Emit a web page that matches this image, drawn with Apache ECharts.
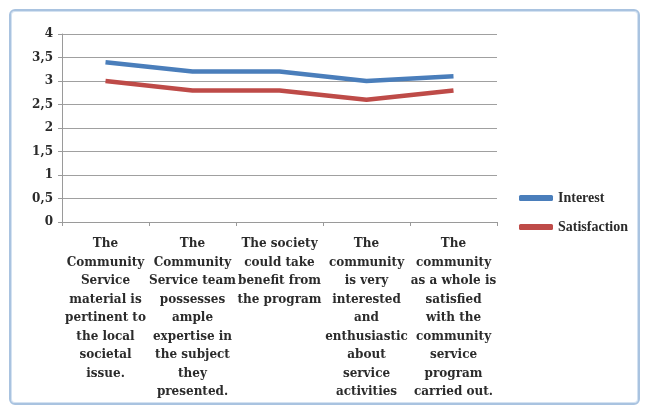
<!DOCTYPE html>
<html>
<head>
<meta charset="utf-8">
<script src="https://cdn.jsdelivr.net/npm/echarts@6/dist/echarts.min.js"></script>
<style>
  html, body { margin: 0; padding: 0; background: #ffffff; }
  #frame {
    position: absolute; left: 9px; top: 9px; width: 627px; height: 392px;
    border: 2px solid #a9c3e0; border-radius: 6px; box-shadow: inset 0 0 0 1px #d4e2f1;
  }
  #chart { position: absolute; left: 0; top: 0; width: 645px; height: 410px; }
</style>
</head>
<body>
<div id="frame"></div>
<div id="chart"></div>
<script>
// categories (line breaks as in the picture)
var categories = [
  'The\nCommunity\nService\nmaterial is\npertinent to\nthe local\nsocietal\nissue.',
  'The\nCommunity\nService team\npossesses\nample\nexpertise in\nthe subject\nthey\npresented.',
  'The society\ncould take\nbenefit from\nthe program',
  'The\ncommunity\nis very\ninterested\nand\nenthusiastic\nabout\nservice\nactivities',
  'The\ncommunity\nas a whole is\nsatisfied\nwith the\ncommunity\nservice\nprogram\ncarried out.'
];
var interest = [3.4, 3.2, 3.2, 3.0, 3.1];
var satisfaction = [3.0, 2.8, 2.8, 2.6, 2.8];

var chart = echarts.init(document.getElementById('chart'));
var font = 'DejaVu Serif';

var option = {
  animation: false,
  color: ['#4a7ebb', '#be4b48'],
  grid: { left: 62, right: 148, top: 34, bottom: 188 },
  legend: {
    orient: 'vertical',
    left: 514,
    top: 186,
    itemGap: 15,
    itemWidth: 34,
    itemHeight: 6,
    icon: 'roundRect',
    data: ['Interest', 'Satisfaction'],
    textStyle: { fontFamily: 'Liberation Serif', fontSize: 14, fontWeight: 'bold', color: '#2b2b2b' }
  },
  xAxis: {
    type: 'category',
    data: categories,
    boundaryGap: true,
    axisLine: { lineStyle: { color: '#9a9a9a', width: 1 } },
    axisTick: { show: true, length: 4, lineStyle: { color: '#9a9a9a' } },
    axisLabel: {
      interval: 0,
      margin: 13,
      fontFamily: font,
      fontSize: 12,
      fontWeight: 'bold',
      color: '#2b2b2b',
      lineHeight: 18.5,
      align: 'center'
    }
  },
  yAxis: {
    type: 'value',
    min: 0,
    max: 4,
    interval: 0.5,
    axisLine: { show: true, lineStyle: { color: '#9a9a9a' } },
    axisTick: { show: true, length: 4, lineStyle: { color: '#9a9a9a' } },
    splitLine: { lineStyle: { color: '#a0a0a0', width: 1 } },
    axisLabel: {
      fontFamily: font,
      fontSize: 12,
      fontWeight: 'bold',
      color: '#2b2b2b',
      margin: 9,
      formatter: function (v) { return String(v).replace('.', ','); }
    }
  },
  series: [
    {
      name: 'Interest',
      type: 'line',
      data: interest,
      showSymbol: false,
      lineStyle: { width: 4.5 }
    },
    {
      name: 'Satisfaction',
      type: 'line',
      data: satisfaction,
      showSymbol: false,
      lineStyle: { width: 4.5 }
    }
  ]
};
chart.setOption(option);
</script>
</body>
</html>
